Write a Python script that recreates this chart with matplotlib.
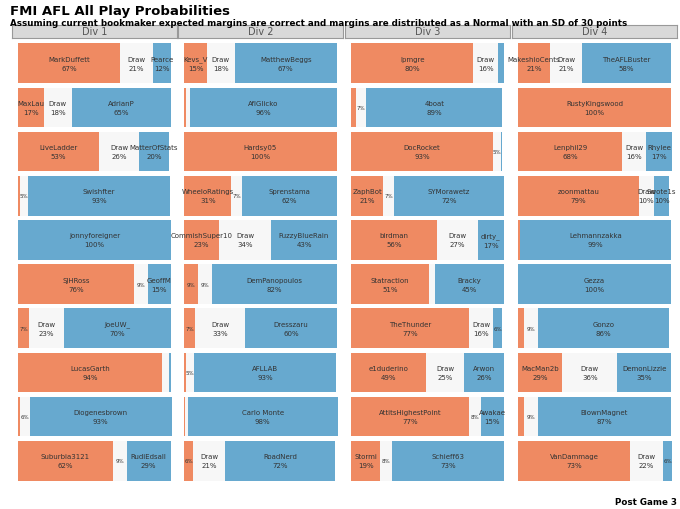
import matplotlib
matplotlib.use("Agg")
import matplotlib.pyplot as plt

divs = ["Div 1", "Div 2", "Div 3", "Div 4"]
home_names = [
    ["MarkDuffett", "MaxLau", "LiveLadder", "Wingard", "Home5", "SJHRoss", "Dad", "LucasGarth", "Home9", "Suburbia3121"],
    ["Kevs_V", "Home2", "Hardsy05", "WheeloRatings", "CommishSuper10", "Home6", "Home7", "Home8", "Home9", "Home10"],
    ["lpmgre", "Home2", "DocRocket", "ZaphBot", "birdman", "Statraction", "TheThunder", "e1duderino", "AttitsHighestPoint", "Stormi"],
    ["MakeshioCents", "RustyKingswood", "Lenphil29", "zoonmattau", "Home5", "Home6", "Home7", "MacMan2b", "Home9", "VanDammage"],
]
away_names = [
    ["Pearce", "AdrianP", "MatterOfStats", "Swishfter", "jonnyforeigner", "GeoffM", "JoeUW_", "Away8", "Diogenesbrown", "RudiEdsall"],
    ["MatthewBeggs", "AflGlicko", "Away3", "Sprenstama", "FuzzyBlueRain", "DemPanopoulos", "Dresszaru", "AFLLAB", "Carlo Monte", "RoadNerd"],
    ["Away1", "4boat", "Away3", "SYMorawetz", "dirty_", "Bracky", "Away7", "Arwon", "Awakae", "Schieff63"],
    ["TheAFLBuster", "Away2", "Rhylee", "Swote1s", "Lehmannzakka", "Gezza", "Gonzo", "DemonLizzie", "BlownMagnet", "Away10"],
]
home_pct = [
    [67, 17, 53, 1.5, 0, 76, 7, 94, 1.5, 62],
    [15, 1, 100, 31, 23, 9, 7, 1.5, 0.5, 6],
    [80, 3, 93, 21, 56, 51, 77, 49, 77, 19],
    [21, 100, 68, 79, 1, 0, 4, 29, 4, 73],
]
draw_pct = [
    [21, 18, 26, 5, 0, 9, 23, 4.5, 6, 9],
    [18, 3, 0, 7, 34, 9, 33, 5, 2, 21],
    [16, 7, 5, 7, 27, 4, 16, 25, 8, 8],
    [21, 0, 16, 10, 0, 0, 9, 36, 9, 22],
]
away_pct = [
    [12, 65, 20, 93, 100, 15, 70, 1.5, 93, 29],
    [67, 96, 0, 62, 43, 82, 60, 93, 98, 72],
    [4, 89, 1, 72, 17, 45, 6, 26, 15, 73],
    [58, 0, 17, 10, 99, 100, 86, 35, 87, 6],
]

ORANGE = "#EF8A62"
BLUE = "#67A9CF"
GREY = "#F7F7F7"

fig = plt.figure(figsize=(6.8, 5.1), dpi=100)
fig.text(10/680, 1-11/510, "FMI AFL All Play Probabilities", fontsize=9.5, fontweight="bold", va="center", ha="left")
fig.text(10/680, 1-24/510, "Assuming current bookmaker expected margins are correct and margins are distributed as a Normal with an SD of 30 points",
         fontsize=6.3, fontweight="bold", va="center", ha="left")
fig.text(677/680, 1-503/510, "Post Game 3", fontsize=6.3, fontweight="bold", va="center", ha="right")

lefts = [12, 178, 345, 512]
pw = 165
def label(ax, x, w, y, name, p):
    if w >= 9.95:
        ax.text(x + w/2, y, f"{name}\n{round(p)}%", ha="center", va="center", fontsize=5, color="#333333", linespacing=1.6)
    elif w >= 4.8:
        ax.text(x + w/2, y, f"{round(p)}%", ha="center", va="center", fontsize=4, color="#333333")

for d in range(4):
    sx = fig.add_axes([lefts[d]/680, 1-39/510, pw/680, 13/510])
    sx.set_xticks([]); sx.set_yticks([])
    sx.set_facecolor("#D9D9D9")
    for s in sx.spines.values():
        s.set_color("#999999"); s.set_linewidth(0.8)
    sx.text(0.5, 0.5, divs[d], ha="center", va="center", fontsize=7, color="#555555", transform=sx.transAxes)

    ax = fig.add_axes([lefts[d]/680, 1-486/510, pw/680, 446/510])
    ax.set_xlim(-4, 104)
    ax.set_ylim(9.55, -0.55)
    ax.axis("off")
    for r in range(10):
        h, dr, a = home_pct[d][r], draw_pct[d][r], away_pct[d][r]
        ax.barh(r, h, left=0, height=0.9, color=ORANGE)
        ax.barh(r, dr, left=h, height=0.9, color=GREY)
        ax.barh(r, a, left=h+dr, height=0.9, color=BLUE)
        label(ax, 0, h, r, home_names[d][r], h)
        label(ax, h, dr, r, "Draw", dr)
        label(ax, h+dr, a, r, away_names[d][r], a)

fig.savefig("out.png", dpi=100)
